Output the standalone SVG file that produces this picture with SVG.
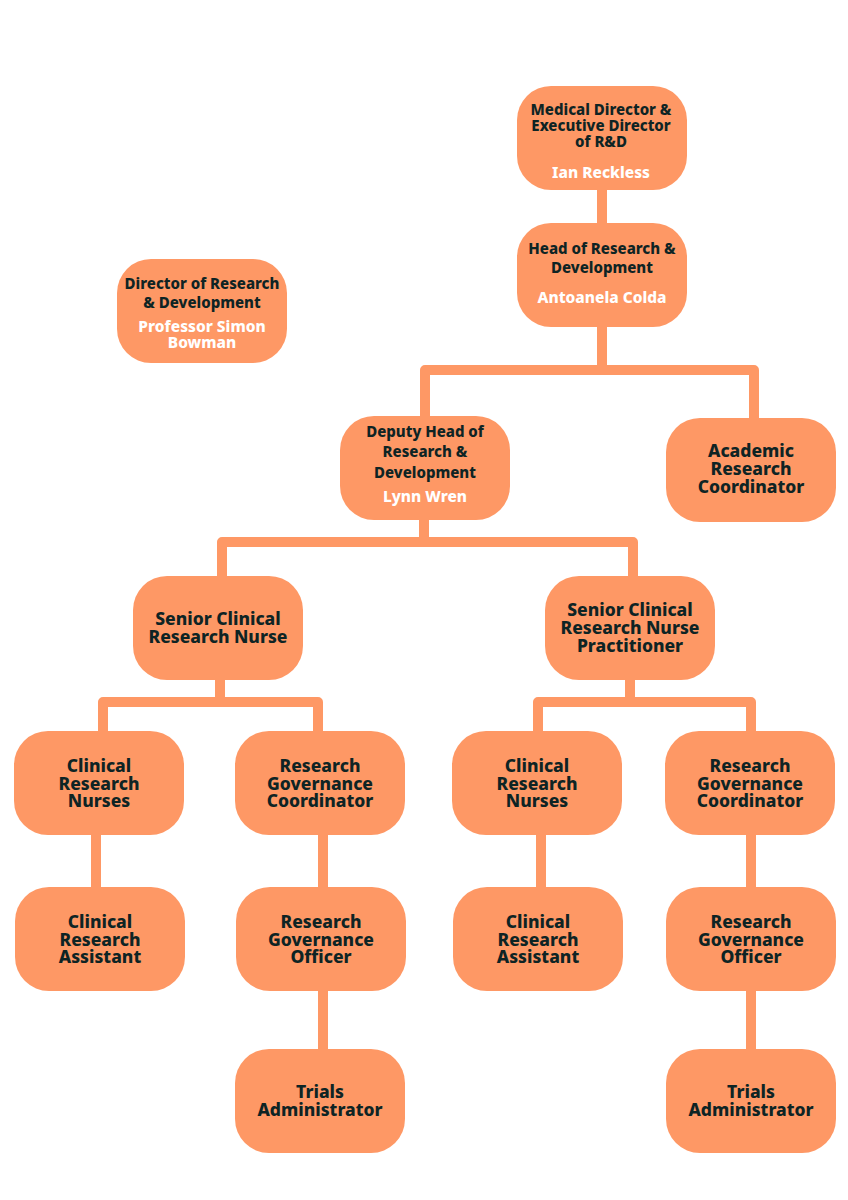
<svg xmlns="http://www.w3.org/2000/svg" width="848" height="1200" viewBox="0 0 848 1200">
<style>
.n{fill:#FE9865}
.c{fill:none;stroke:#FE9865;stroke-width:10;stroke-linejoin:round}
text{font-family:"Noto Sans","Open Sans","Liberation Sans",sans-serif;font-weight:800;text-anchor:middle}
.t{fill:#0E2424;font-size:15px}
.tb{fill:#0E2424;font-size:17.5px}
.w{fill:#FFFFFF;font-size:15.5px}
</style>
<rect width="848" height="1200" fill="#FFFFFF"/>
<g id="connectors">
<path class="c" d="M602 188V225"/>
<path class="c" d="M602 325V370M425 418V370H754V420"/>
<path class="c" d="M424 518V542M222 578V542H633V578"/>
<path class="c" d="M220 678V702M103 733V702H318V733"/>
<path class="c" d="M630 678V702M538 733V702H751V733"/>
<path class="c" d="M96 833V889"/>
<path class="c" d="M323 833V889"/>
<path class="c" d="M323 989V1051"/>
<path class="c" d="M541 833V889"/>
<path class="c" d="M751 833V889"/>
<path class="c" d="M751 989V1051"/>
</g>
<g id="medical-director">
<rect class="n" x="517" y="86" width="170" height="104" rx="34"/>
<text class="t" x="601" y="115">Medical Director &amp;</text>
<text class="t" x="601" y="131">Executive Director</text>
<text class="t" x="601" y="147">of R&amp;D</text>
<text class="w" x="601" y="178">Ian Reckless</text>
</g>
<g id="head-rd">
<rect class="n" x="517" y="223" width="170" height="104" rx="34"/>
<text class="t" x="602" y="254">Head of Research &amp;</text>
<text class="t" x="602" y="273">Development</text>
<text class="w" x="602" y="303">Antoanela Colda</text>
</g>
<g id="director-rd">
<rect class="n" x="117" y="259" width="170" height="104" rx="34"/>
<text class="t" x="202" y="289">Director of Research</text>
<text class="t" x="202" y="308">&amp; Development</text>
<text class="w" x="202" y="332">Professor Simon</text>
<text class="w" x="202" y="348">Bowman</text>
</g>
<g id="deputy-head">
<rect class="n" x="340" y="416" width="170" height="104" rx="34"/>
<text class="t" x="425" y="437">Deputy Head of</text>
<text class="t" x="425" y="457">Research &amp;</text>
<text class="t" x="425" y="478">Development</text>
<text class="w" x="425" y="502">Lynn Wren</text>
</g>
<g id="academic-coordinator">
<rect class="n" x="666" y="418" width="170" height="104" rx="34"/>
<text class="tb" x="751" y="457">Academic</text>
<text class="tb" x="751" y="475">Research</text>
<text class="tb" x="751" y="493">Coordinator</text>
</g>
<g id="senior-nurse">
<rect class="n" x="133" y="576" width="170" height="104" rx="34"/>
<text class="tb" x="218" y="625">Senior Clinical</text>
<text class="tb" x="218" y="643">Research Nurse</text>
</g>
<g id="senior-nurse-practitioner">
<rect class="n" x="545" y="576" width="170" height="104" rx="34"/>
<text class="tb" x="630" y="616">Senior Clinical</text>
<text class="tb" x="630" y="634">Research Nurse</text>
<text class="tb" x="630" y="652">Practitioner</text>
</g>
<g id="nurses-left">
<rect class="n" x="14" y="731" width="170" height="104" rx="34"/>
<text class="tb" x="99" y="772">Clinical</text>
<text class="tb" x="99" y="790">Research</text>
<text class="tb" x="99" y="807">Nurses</text>
</g>
<g id="governance-coordinator-left">
<rect class="n" x="235" y="731" width="170" height="104" rx="34"/>
<text class="tb" x="320" y="772">Research</text>
<text class="tb" x="320" y="790">Governance</text>
<text class="tb" x="320" y="807">Coordinator</text>
</g>
<g id="nurses-right">
<rect class="n" x="452" y="731" width="170" height="104" rx="34"/>
<text class="tb" x="537" y="772">Clinical</text>
<text class="tb" x="537" y="790">Research</text>
<text class="tb" x="537" y="807">Nurses</text>
</g>
<g id="governance-coordinator-right">
<rect class="n" x="665" y="731" width="170" height="104" rx="34"/>
<text class="tb" x="750" y="772">Research</text>
<text class="tb" x="750" y="790">Governance</text>
<text class="tb" x="750" y="807">Coordinator</text>
</g>
<g id="assistant-left">
<rect class="n" x="15" y="887" width="170" height="104" rx="34"/>
<text class="tb" x="100" y="928">Clinical</text>
<text class="tb" x="100" y="946">Research</text>
<text class="tb" x="100" y="963">Assistant</text>
</g>
<g id="governance-officer-left">
<rect class="n" x="236" y="887" width="170" height="104" rx="34"/>
<text class="tb" x="321" y="928">Research</text>
<text class="tb" x="321" y="946">Governance</text>
<text class="tb" x="321" y="963">Officer</text>
</g>
<g id="assistant-right">
<rect class="n" x="453" y="887" width="170" height="104" rx="34"/>
<text class="tb" x="538" y="928">Clinical</text>
<text class="tb" x="538" y="946">Research</text>
<text class="tb" x="538" y="963">Assistant</text>
</g>
<g id="governance-officer-right">
<rect class="n" x="666" y="887" width="170" height="104" rx="34"/>
<text class="tb" x="751" y="928">Research</text>
<text class="tb" x="751" y="946">Governance</text>
<text class="tb" x="751" y="963">Officer</text>
</g>
<g id="trials-admin-left">
<rect class="n" x="235" y="1049" width="170" height="104" rx="34"/>
<text class="tb" x="320" y="1098">Trials</text>
<text class="tb" x="320" y="1116">Administrator</text>
</g>
<g id="trials-admin-right">
<rect class="n" x="666" y="1049" width="170" height="104" rx="34"/>
<text class="tb" x="751" y="1098">Trials</text>
<text class="tb" x="751" y="1116">Administrator</text>
</g>
</svg>
